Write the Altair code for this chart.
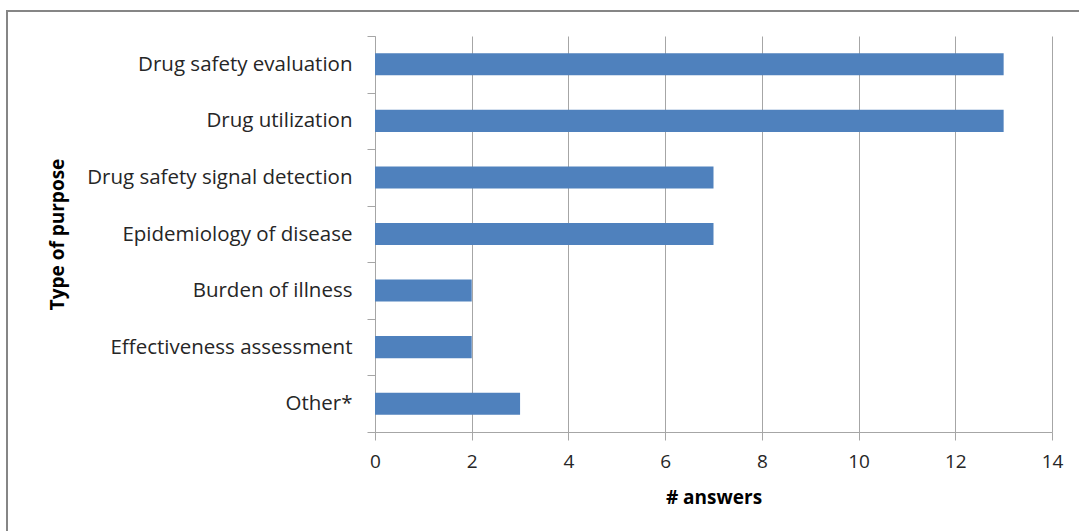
import altair as alt
import pandas as pd

categories = [
    "Drug safety evaluation ",
    "Drug utilization",
    "Drug safety signal detection",
    "Epidemiology of disease",
    "Burden of illness",
    "Effectiveness assessment",
    "Other*",
]
answers = [13, 13, 7, 7, 2, 2, 3]
x_ticks = [0, 2, 4, 6, 8, 10, 12, 14]

df = pd.DataFrame({"purpose": categories, "answers": answers})

FONT = "Open Sans"
GRAY = "#a6a6a6"
TEXT = "#262626"

bars = alt.Chart(df).mark_bar(color="#4F81BD", height={"band": 0.39}).encode(
    x=alt.X(
        "answers:Q",
        scale=alt.Scale(domain=[0, 14], nice=False),
        axis=alt.Axis(
            values=x_ticks,
            title="# answers",
            grid=True,
            gridColor=GRAY,
            domainColor=GRAY,
            tickColor=GRAY,
            tickSize=8,
            labelFontSize=19,
            labelFlush=False,
            labelColor=TEXT,
            labelPadding=12,
            titleFontSize=19,
            titleFontWeight="bold",
            titleColor="#000000",
            titlePadding=17,
        ),
    ),
    y=alt.Y(
        "purpose:N",
        sort=categories,
        scale=alt.Scale(paddingInner=0, paddingOuter=0),
        axis=alt.Axis(
            title="Type of purpose",
            tickBand="extent",
            grid=False,
            domainColor=GRAY,
            tickColor=GRAY,
            tickSize=8,
            labelFontSize=20.5,
            labelLimit=0,
            labelColor=TEXT,
            labelPadding=15,
            titleFontSize=19,
            titleFontWeight="bold",
            titleColor="#000000",
            titleX=-318,
            titleY=198,
            titleAlign="center",
            titleBaseline="middle",
        ),
    ),
)

border = alt.Chart(df).mark_rect(fill=None, stroke="#868686", strokeWidth=2).encode(
    x=alt.value(-368), x2=alt.value(720), y=alt.value(-25), y2=alt.value(510)
)

chart = (
    alt.layer(bars, border)
    .properties(
        width=677,
        height=396,
        autosize=alt.AutoSizeParams(type="none"),
        padding={"left": 375, "top": 36, "right": 27, "bottom": 99},
    )
    .configure(font=FONT)
    .configure_view(stroke=None)
)

chart.save("out.html", embed_options={"renderer": "svg", "actions": False})
